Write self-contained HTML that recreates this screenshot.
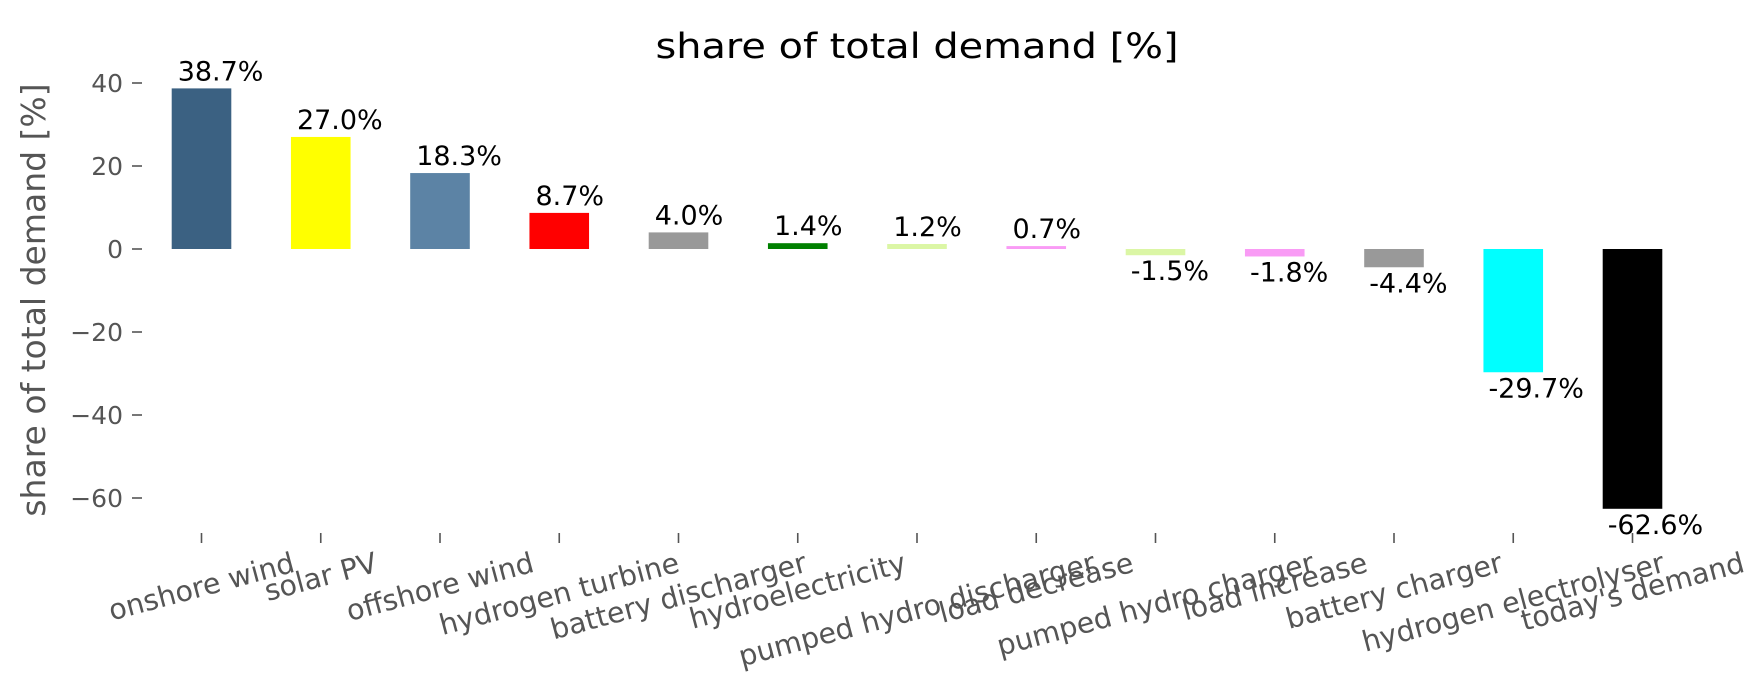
<!DOCTYPE html>
<html><head><meta charset="utf-8"><style>
html,body{margin:0;padding:0;background:#fff;}
svg{display:block;font-family:"DejaVu Sans","Liberation Sans",sans-serif;}
</style></head><body>
<svg id="s" width="1764" height="689" viewBox="0 0 1764 689" xmlns="http://www.w3.org/2000/svg">
<rect width="1764" height="689" fill="#fff"/>
<text x="917" y="58" font-size="35" text-anchor="middle" fill="#000" textLength="523" lengthAdjust="spacingAndGlyphs">share of total demand [%]</text>
<text transform="translate(45,300) rotate(-90)" font-size="33" text-anchor="middle" fill="#555">share of total demand [%]</text>
<g id="yt" font-size="25" fill="#555" text-anchor="end"></g>
<g id="bars"></g>
</svg>
<script>
var s=document.getElementById('s'),NS='http://www.w3.org/2000/svg';
function el(t,a,p,txt){var e=document.createElementNS(NS,t);for(var k in a)e.setAttribute(k,a[k]);if(txt!=null)e.textContent=txt;(p||s).appendChild(e);return e;}
var y0=249,k=4.15;
var yt=document.getElementById('yt');
[40,20,0,-20,-40,-60].forEach(function(v){var y=y0-v*k;
 el('line',{x1:132,x2:142,y1:y,y2:y,stroke:'#555','stroke-width':1.6});
 el('text',{x:123,y:y+9},yt,(v<0?'\u2212'+(-v):''+v));});
var d=[["onshore wind",38.7,"#3b6182"],["solar PV",27.0,"#ffff00"],["offshore wind",18.3,"#5c83a5"],["hydrogen turbine",8.7,"#ff0000"],["battery discharger",4.0,"#999999"],["hydroelectricity",1.4,"#008000"],["pumped hydro discharger",1.2,"#dbf6a5"],["load decrease",0.7,"#f99bf5"],["pumped hydro charger",-1.5,"#dbf6a5"],["load increase",-1.8,"#f99bf5"],["battery charger",-4.4,"#999999"],["hydrogen electrolyser",-29.7,"#00ffff"],["today's demand",-62.6,"#000000"]];
var g=document.getElementById('bars');
d.forEach(function(r,i){var cx=201.5+i*119.25,l=cx-29.8,h=Math.abs(r[1])*k;
 var top=r[1]>=0?y0-h:y0;
 el('rect',{x:l,y:top,width:59.6,height:Math.max(h,1),fill:r[2]},g);
 var lab=r[1].toFixed(1)+'%';
 if(r[1]>=0) el('text',{x:l+6,y:top-8,'font-size':27,fill:'#000'},g,lab);
 else el('text',{x:l+5,y:y0+h+25,'font-size':27,fill:'#000'},g,lab);
 el('line',{x1:cx,x2:cx,y1:533,y2:543,stroke:'#555','stroke-width':1.6},g);
 var fs=28.5;
 var t=el('text',{x:cx,y:0,'font-size':fs,fill:'#555','text-anchor':'middle','dominant-baseline':'central'},g,r[0]);
 var w=t.getComputedTextLength?t.getComputedTextLength():r[0].length*16;
 var a=15*Math.PI/180,bh=w*Math.sin(a)+fs*1.17*Math.cos(a);
 var cy=546+bh/2;
 t.setAttribute('y',cy);t.setAttribute('transform','rotate(-15 '+cx+' '+cy+')');
});
</script>
</body></html>
